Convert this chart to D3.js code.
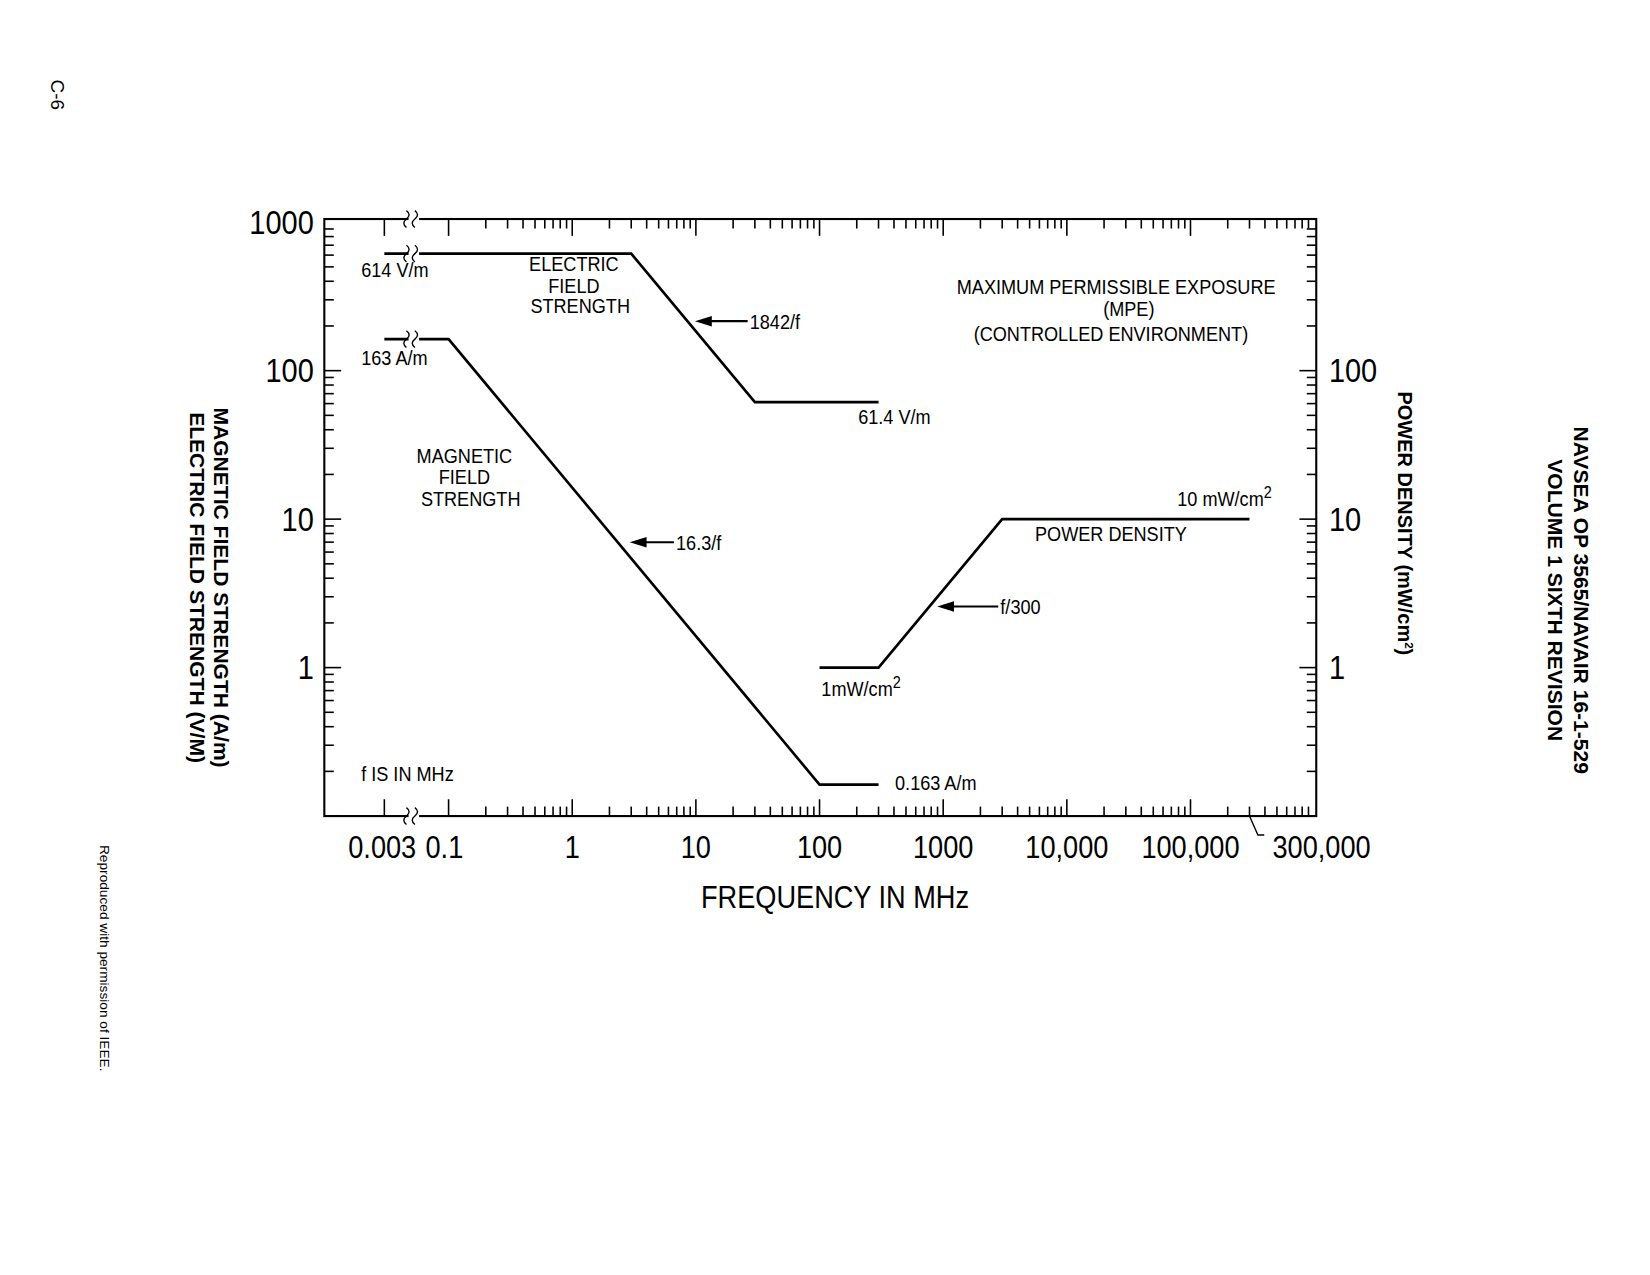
<!DOCTYPE html><html><head><meta charset="utf-8">
<script src="https://cdn.jsdelivr.net/npm/d3@7"></script>
<style>body{margin:0;background:#fff}svg{font-family:"Liberation Sans",Arial,sans-serif}</style>
</head><body><svg id="c" width="1650" height="1275"></svg>
<script>
const xTickVals=[0.003,0.1,1,10,100,1000,10000,100000,300000];
const xTickLabels=["0.003","0.1","1","10","100","1000","10,000","100,000","300,000"];
const yTickVals=[1000,100,10,1];
const yTickLabels=["1000","100","10","1"];
const rTickVals=[100,10,1];
const electric=[[0.003,614],[3,614],[30,61.4],[300,61.4]];
const magnetic=[[0.003,163],[0.1,163],[100,0.163],[300,0.163]];
const power=[[100,1],[300,1],[3000,10],[300000,10]];

const svg=d3.select("#c");
const root=svg.append("g").attr("transform","scale(1.053)");
const L=308,R=1250,T=208,B=775;
const xl=d3.scaleLog().domain([0.1,1e6]).range([426,1248]);
const X=v=>v<0.1?365:xl(v);
const y=d3.scaleLog().domain([0.1,1000]).range([775,211]);
const g=root.append("g");
const narrow=[];
g.append("rect").attr("x",L).attr("y",T).attr("width",R-L).attr("height",B-T).attr("fill","none").attr("stroke","#000").attr("stroke-width",2);
const xt=[];
for(let e=-1;e<6;e++)for(let m=1;m<10;m++){const v=m*Math.pow(10,e);if(v<=1e6)xt.push(v);}
xt.forEach(v=>{const len=(Math.abs(Math.log10(v)-Math.round(Math.log10(v)))<1e-9)?16:9;const xx=xl(v);if(xx>R)return;
 g.append("line").attr("x1",xx).attr("x2",xx).attr("y1",T).attr("y2",T+len).attr("stroke","#000").attr("stroke-width",1.5);
 g.append("line").attr("x1",xx).attr("x2",xx).attr("y1",B).attr("y2",B-len).attr("stroke","#000").attr("stroke-width",1.5);});
[365].forEach(xx=>{g.append("line").attr("x1",xx).attr("x2",xx).attr("y1",T).attr("y2",T+16).attr("stroke","#000").attr("stroke-width",1.5);
 g.append("line").attr("x1",xx).attr("x2",xx).attr("y1",B).attr("y2",B-16).attr("stroke","#000").attr("stroke-width",1.5);});
for(let e=-1;e<3;e++)for(let m=1;m<10;m++){const v=m*Math.pow(10,e);const yy=y(v);const len=m==1?16:9;
 g.append("line").attr("x1",L).attr("x2",L+len).attr("y1",yy).attr("y2",yy).attr("stroke","#000").attr("stroke-width",1.5);
 g.append("line").attr("x1",R).attr("x2",R-len).attr("y1",yy).attr("y2",yy).attr("stroke","#000").attr("stroke-width",1.5);}
function brk(xx,yy){g.append("rect").attr("x",xx-5).attr("y",yy-9).attr("width",10).attr("height",18).attr("fill","#fff");
 [-4,4].forEach(d=>g.append("path").attr("d",`M${xx+d-3},${yy-8} q5,4 0,8 q-5,4 0,8`).attr("fill","none").attr("stroke","#000").attr("stroke-width",1.3));}
function t(x,yy,s,sz=20,anc="start"){const e=g.append("text").attr("x",x).attr("y",yy).attr("font-size",sz).attr("text-anchor",anc).text(s);narrow.push(e);return e;}
xTickVals.forEach((v,i)=>{let xx=X(v);if(v==300000)xx=1255;if(v==0.003)xx=363;if(v==0.1)xx=422;
 t(xx,815,xTickLabels[i],30,"middle");});
g.append("path").attr("d",`M${xl(300000)},${B} l8,18 l6,0`).attr("fill","none").attr("stroke","#000").attr("stroke-width",1.3);
yTickVals.forEach((v,i)=>t(298,y(v)+11,yTickLabels[i],32,"end"));
rTickVals.forEach(v=>t(1262,y(v)+11,String(v),32));
const line=d3.line().x(d=>X(d[0])).y(d=>y(d[1]));
[electric,magnetic,power].forEach(s=>g.append("path").attr("d",line(s)).attr("fill","none").attr("stroke","#000").attr("stroke-width",2.5));
brk(393,T);brk(393,B);brk(393,y(614));brk(393,y(163));
t(343,263,"614 V/m");t(343,347,"163 A/m");
t(545,257,"ELECTRIC",20,"middle");t(545,278,"FIELD",20,"middle");t(551,297,"STRENGTH",20,"middle");
t(441,440,"MAGNETIC",20,"middle");t(441,460,"FIELD",20,"middle");t(447,481,"STRENGTH",20,"middle");
t(1060,279,"MAXIMUM PERMISSIBLE EXPOSURE",20,"middle");t(1072,300,"(MPE)",20,"middle");t(1055,324,"(CONTROLLED ENVIRONMENT)",20,"middle");
t(815,403,"61.4 V/m");t(850,750,"0.163 A/m");t(343,742,"f IS IN MHz");
t(1055,514,"POWER DENSITY",20,"middle");
const tm=t(1118,481,"10 mW/cm");tm.append("tspan").attr("dy",-8).attr("font-size",16).text("2");
const t1=t(780,661,"1mW/cm");t1.append("tspan").attr("dy",-8).attr("font-size",16).text("2");
function arrow(x1,x2,yy,label){g.append("line").attr("x1",x1).attr("x2",x2+10).attr("y1",yy).attr("y2",yy).attr("stroke","#000").attr("stroke-width",2);
 g.append("path").attr("d",`M${x2},${yy} l16,-5 l0,10 z`).attr("fill","#000");t(x1+2,yy+7,label);}
arrow(710,660,305,"1842/f");arrow(640,598,515,"16.3/f");arrow(948,890,576,"f/300");
t(793,862,"FREQUENCY IN MHz",30,"middle");
narrow.forEach(e=>{const n=e.node();const w=n.getComputedTextLength();n.setAttribute("textLength",w*0.86);n.setAttribute("lengthAdjust","spacingAndGlyphs");});
function rot(x,yy,s,sz,w="normal",ang=90){return root.append("text").attr("transform",`translate(${x},${yy}) rotate(${ang})`).attr("text-anchor","middle").attr("font-size",sz).attr("font-weight",w).text(s);}
rot(203,558,"MAGNETIC FIELD STRENGTH (A/m)",20,"bold");
rot(180,558,"ELECTRIC FIELD STRENGTH (V/M)",20,"bold");
const pd=rot(1328,497,"POWER DENSITY (mW/cm",19,"bold");
pd.append("tspan").attr("dy",-6).attr("font-size",11).text("2");pd.append("tspan").attr("dy",6).text(")");
rot(1495,570,"NAVSEA OP 3565/NAVAIR 16-1-529",20,"bold");
rot(1470,570,"VOLUME 1 SIXTH REVISION",20,"bold");
rot(48,90,"C-6",18);
rot(95,910,"Reproduced with permission of IEEE.",13);
</script></body></html>
